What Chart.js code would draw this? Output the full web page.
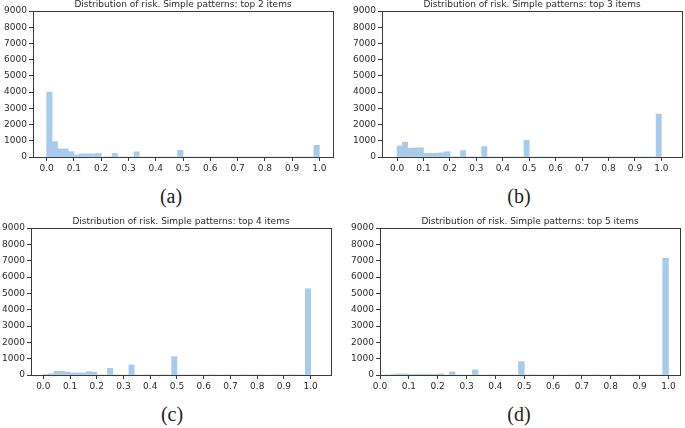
<!DOCTYPE html>
<html>
<head>
<meta charset="utf-8">
<script src="https://cdn.jsdelivr.net/npm/chart.js@4.4.0/dist/chart.umd.min.js"></script>
<style>
  body { margin: 0; background: #fff; width: 685px; height: 428px; position: relative; overflow: hidden; }
  canvas { position: absolute; }
  .cap { position: absolute; font-family: "Liberation Serif", serif; font-size: 20px; color: #222; transform: translate(-50%, -50%); }
</style>
</head>
<body>
<canvas id="chartA" width="340" height="182" style="left:0px;top:0px"></canvas>
<canvas id="chartB" width="340" height="182" style="left:345px;top:0px"></canvas>
<canvas id="chartC" width="340" height="188" style="left:0px;top:212px"></canvas>
<canvas id="chartD" width="340" height="188" style="left:345px;top:212px"></canvas>
<div class="cap" style="left:171px;top:196px">(a)</div>
<div class="cap" style="left:519px;top:196px">(b)</div>
<div class="cap" style="left:172px;top:414px">(c)</div>
<div class="cap" style="left:519px;top:414px">(d)</div>
<script>
// bin centres (50 bins of width 0.02)
const binCenters = [
  0.01, 0.03, 0.05, 0.07, 0.09, 0.11, 0.13, 0.15, 0.17, 0.19,
  0.21, 0.23, 0.25, 0.27, 0.29, 0.31, 0.33, 0.35, 0.37, 0.39,
  0.41, 0.43, 0.45, 0.47, 0.49, 0.51, 0.53, 0.55, 0.57, 0.59,
  0.61, 0.63, 0.65, 0.67, 0.69, 0.71, 0.73, 0.75, 0.77, 0.79,
  0.81, 0.83, 0.85, 0.87, 0.89, 0.91, 0.93, 0.95, 0.97, 0.99
];

const countsTop2 = [
  4000, 950, 500, 500, 330, 130, 190, 190, 190, 220,
  0, 0, 220, 0, 0, 0, 320, 0, 0, 0,
  0, 0, 0, 0, 410, 0, 0, 0, 0, 0,
  0, 0, 0, 0, 0, 0, 0, 0, 0, 0,
  0, 0, 0, 0, 0, 0, 0, 0, 0, 720
];
const countsTop3 = [
  680, 920, 540, 560, 570, 220, 230, 230, 260, 330,
  0, 0, 400, 0, 0, 0, 640, 0, 0, 0,
  0, 0, 0, 0, 1030, 0, 0, 0, 0, 0,
  0, 0, 0, 0, 0, 0, 0, 0, 0, 0,
  0, 0, 0, 0, 0, 0, 0, 0, 0, 2650
];
const countsTop4 = [
  40, 80, 225, 225, 180, 125, 125, 125, 205, 165,
  0, 0, 410, 0, 0, 0, 620, 0, 0, 0,
  0, 0, 0, 0, 1120, 0, 0, 0, 0, 0,
  0, 0, 0, 0, 0, 0, 0, 0, 0, 0,
  0, 0, 0, 0, 0, 0, 0, 0, 0, 5280
];
const countsTop5 = [
  0, 0, 50, 60, 60, 40, 50, 50, 50, 40,
  75, 0, 190, 0, 0, 0, 310, 0, 0, 0,
  0, 0, 0, 0, 820, 0, 0, 0, 0, 0,
  0, 0, 0, 0, 0, 0, 0, 0, 0, 0,
  0, 0, 0, 0, 0, 0, 0, 0, 0, 7150
];

const titles = [
  'Distribution of risk. Simple patterns: top 2 items',
  'Distribution of risk. Simple patterns: top 3 items',
  'Distribution of risk. Simple patterns: top 4 items',
  'Distribution of risk. Simple patterns: top 5 items'
];

const xTicks = [0.0, 0.1, 0.2, 0.3, 0.4, 0.5, 0.6, 0.7, 0.8, 0.9, 1.0];
const yTicks = [0, 1000, 2000, 3000, 4000, 5000, 6000, 7000, 8000, 9000];

const barColor = '#a9cbeb';
const inkColor = '#2b2b2b';
const frameColor = '#3a3a3a';
const tickFont = { family: 'DejaVu Sans', size: 9 };

// frame round the plot area + title above it
const framePlugin = {
  id: 'frame',
  afterDraw(chart, args, opts) {
    const a = chart.chartArea;
    const ctx = chart.ctx;
    ctx.save();
    ctx.strokeStyle = frameColor;
    ctx.lineWidth = 1;
    ctx.strokeRect(Math.round(a.left) + 0.5, Math.round(a.top) + 0.5, Math.round(a.right - a.left), Math.round(a.bottom - a.top));
    ctx.fillStyle = inkColor;
    ctx.font = '9px "DejaVu Sans"';
    ctx.textAlign = 'center';
    ctx.textBaseline = 'middle';
    ctx.fillText(opts.text, (a.left + a.right) / 2, a.top - 6.5);
    ctx.restore();
  }
};

function makeChart(id, counts, title, cfg) {
  const points = binCenters.map((x, i) => ({ x: x, y: counts[i] }));
  return new Chart(document.getElementById(id), {
    type: 'bar',
    data: {
      datasets: [{
        data: points,
        backgroundColor: barColor,
        borderWidth: 0,
        barPercentage: 1,
        categoryPercentage: 1
      }]
    },
    options: {
      responsive: false,
      animation: false,
      layout: { padding: { top: cfg.padTop, right: cfg.padRight, left: 0, bottom: 0 } },
      plugins: {
        legend: { display: false },
        tooltip: { enabled: false },
        frame: { text: title }
      },
      scales: {
        x: {
          type: 'linear',
          min: cfg.xMin,
          max: cfg.xMax,
          offset: false,
          border: { display: false },
          grid: { drawOnChartArea: false, drawTicks: true, tickLength: 4, color: frameColor, offset: false },
          afterBuildTicks: s => { s.ticks = xTicks.map(v => ({ value: v })); },
          ticks: {
            maxRotation: 0,
            autoSkip: false,
            padding: 2,
            color: inkColor,
            font: tickFont,
            callback: v => v.toFixed(1)
          },
          afterFit: s => { s.height = cfg.xHeight; }
        },
        y: {
          min: 0,
          max: 9000,
          border: { display: false },
          grid: { drawOnChartArea: false, drawTicks: true, tickLength: 4, color: frameColor },
          afterBuildTicks: s => { s.ticks = yTicks.map(v => ({ value: v })); },
          ticks: { padding: 2, color: inkColor, font: tickFont, callback: v => String(v) },
          afterFit: s => { s.width = cfg.yWidth; }
        }
      }
    },
    plugins: [framePlugin]
  });
}

makeChart('chartA', countsTop2, titles[0], { padTop: 11, padRight: 7, yWidth: 33, xHeight: 25, xMin: -0.05, xMax: 1.05 });
makeChart('chartB', countsTop3, titles[1], { padTop: 11, padRight: 3, yWidth: 37, xHeight: 25, xMin: -0.057, xMax: 1.078 });
makeChart('chartC', countsTop4, titles[2], { padTop: 16, padRight: 9, yWidth: 31, xHeight: 25, xMin: -0.046, xMax: 1.076 });
makeChart('chartD', countsTop5, titles[3], { padTop: 16, padRight: 5, yWidth: 35, xHeight: 25, xMin: 0, xMax: 1.04 });
</script>
</body>
</html>
